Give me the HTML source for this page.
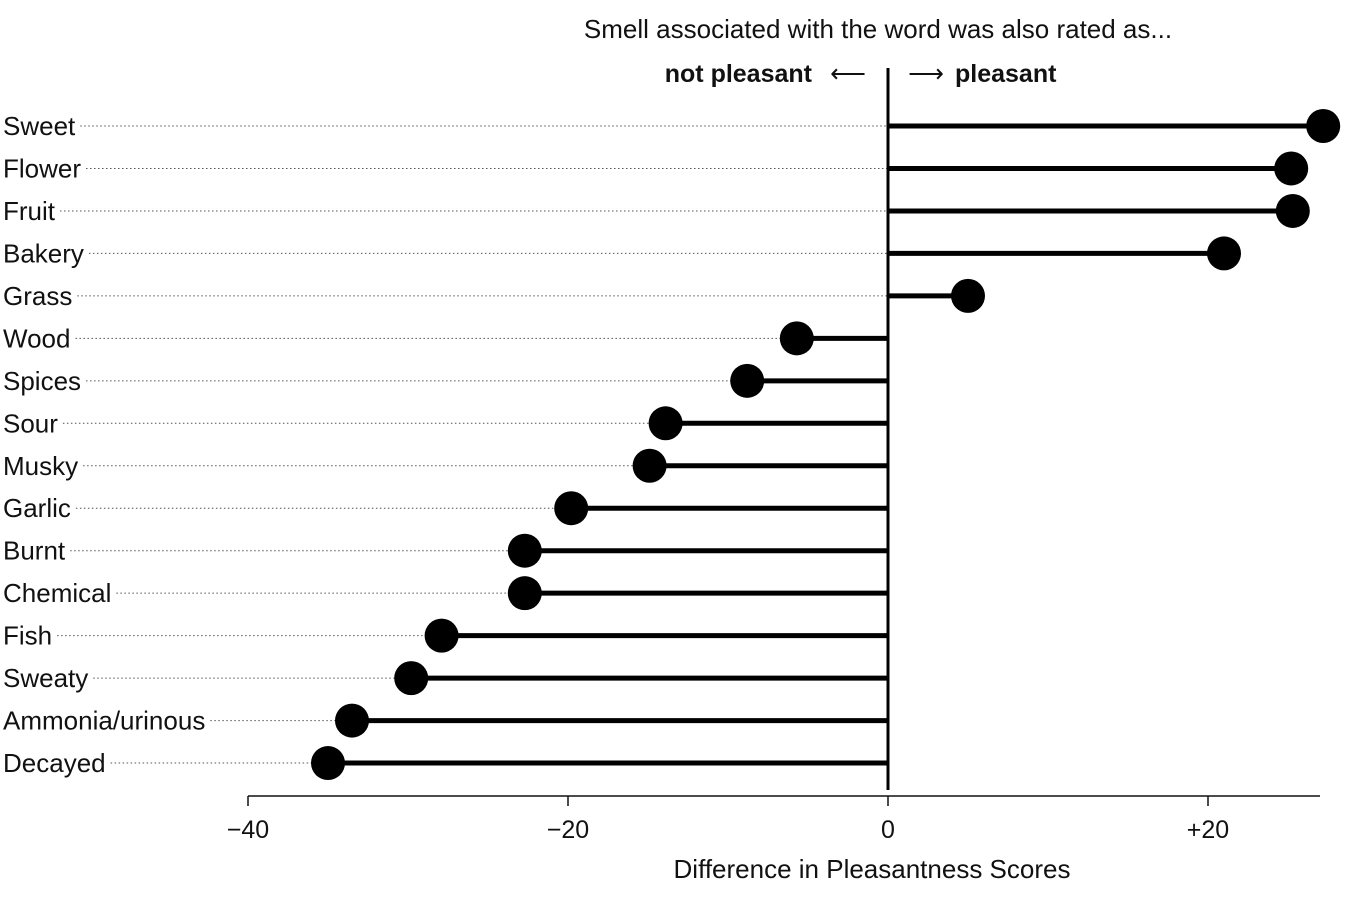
<!DOCTYPE html>
<html><head><meta charset="utf-8"><style>
body{margin:0;background:#fff}
svg text{font-family:"Liberation Sans Narrow","Liberation Sans",sans-serif;fill:#111}
</style></head><body>
<svg width="1350" height="898" viewBox="0 0 1350 898" id="chart">
<text x="878" y="38" font-size="26" text-anchor="middle">Smell associated with the word was also rated as...</text>
<text x="812" y="82" font-size="25" font-weight="bold" text-anchor="end">not pleasant</text>
<text x="848" y="82" font-size="25" text-anchor="middle">⟵</text>
<text x="926" y="82" font-size="25" text-anchor="middle">⟶</text>
<text x="955" y="82" font-size="25" font-weight="bold">pleasant</text>
<g id="plot"></g>
<text x="872" y="878" font-size="26" text-anchor="middle">Difference in Pleasantness Scores</text>
</svg>
<script>
const categories=["Sweet","Flower","Fruit","Bakery","Grass","Wood","Spices","Sour","Musky","Garlic","Burnt","Chemical","Fish","Sweaty","Ammonia/urinous","Decayed"];
const values=[27.2,25.2,25.3,21.0,5.0,-5.7,-8.8,-13.9,-14.9,-19.8,-22.7,-22.7,-27.9,-29.8,-33.5,-35.0];
const ticks=[-40,-20,0,20];
const tickLabels=["−40","−20","0","+20"];
const ns="http://www.w3.org/2000/svg";
const g=document.getElementById('plot');
const x=v=>888+v*16.0;
const y=i=>126+i*42.47;
function mk(t,a){const e=document.createElementNS(ns,t);for(const k in a)e.setAttribute(k,a[k]);g.appendChild(e);return e;}
let ax=mk('line',{x1:x(-40),x2:1320,y1:796,y2:796,stroke:'#111','stroke-width':1.5});


ticks.forEach((t,i)=>{
 let l=mk('line',{x1:x(t),x2:x(t),y1:796,y2:806,stroke:'#111','stroke-width':1.5});
 
 
 let tx=mk('text',{x:x(t),y:838,'font-size':25,'text-anchor':'middle'});
 tx.textContent=tickLabels[i];
 
 
});
categories.forEach((c,i)=>{
 let tx=mk('text',{x:3,y:y(i)+9,'font-size':26});
 tx.textContent=c;
 
 
 const w=tx.getComputedTextLength();
 let d=mk('line',{x1:w+8,x2:x(0),y1:y(i),y2:y(i),stroke:'#555','stroke-width':1,'stroke-dasharray':'1.5,2.5'});
 
 
});
let z=mk('line',{x1:x(0),x2:x(0),y1:68,y2:790,stroke:'#000','stroke-width':3});


categories.forEach((c,i)=>{
 let s=mk('line',{x1:x(0),x2:x(values[i]),y1:y(i),y2:y(i),stroke:'#000','stroke-width':5});
 
 
 let p=mk('circle',{cx:x(values[i]),cy:y(i),r:17,fill:'#000'});
 
 
});
</script>
</body></html>
